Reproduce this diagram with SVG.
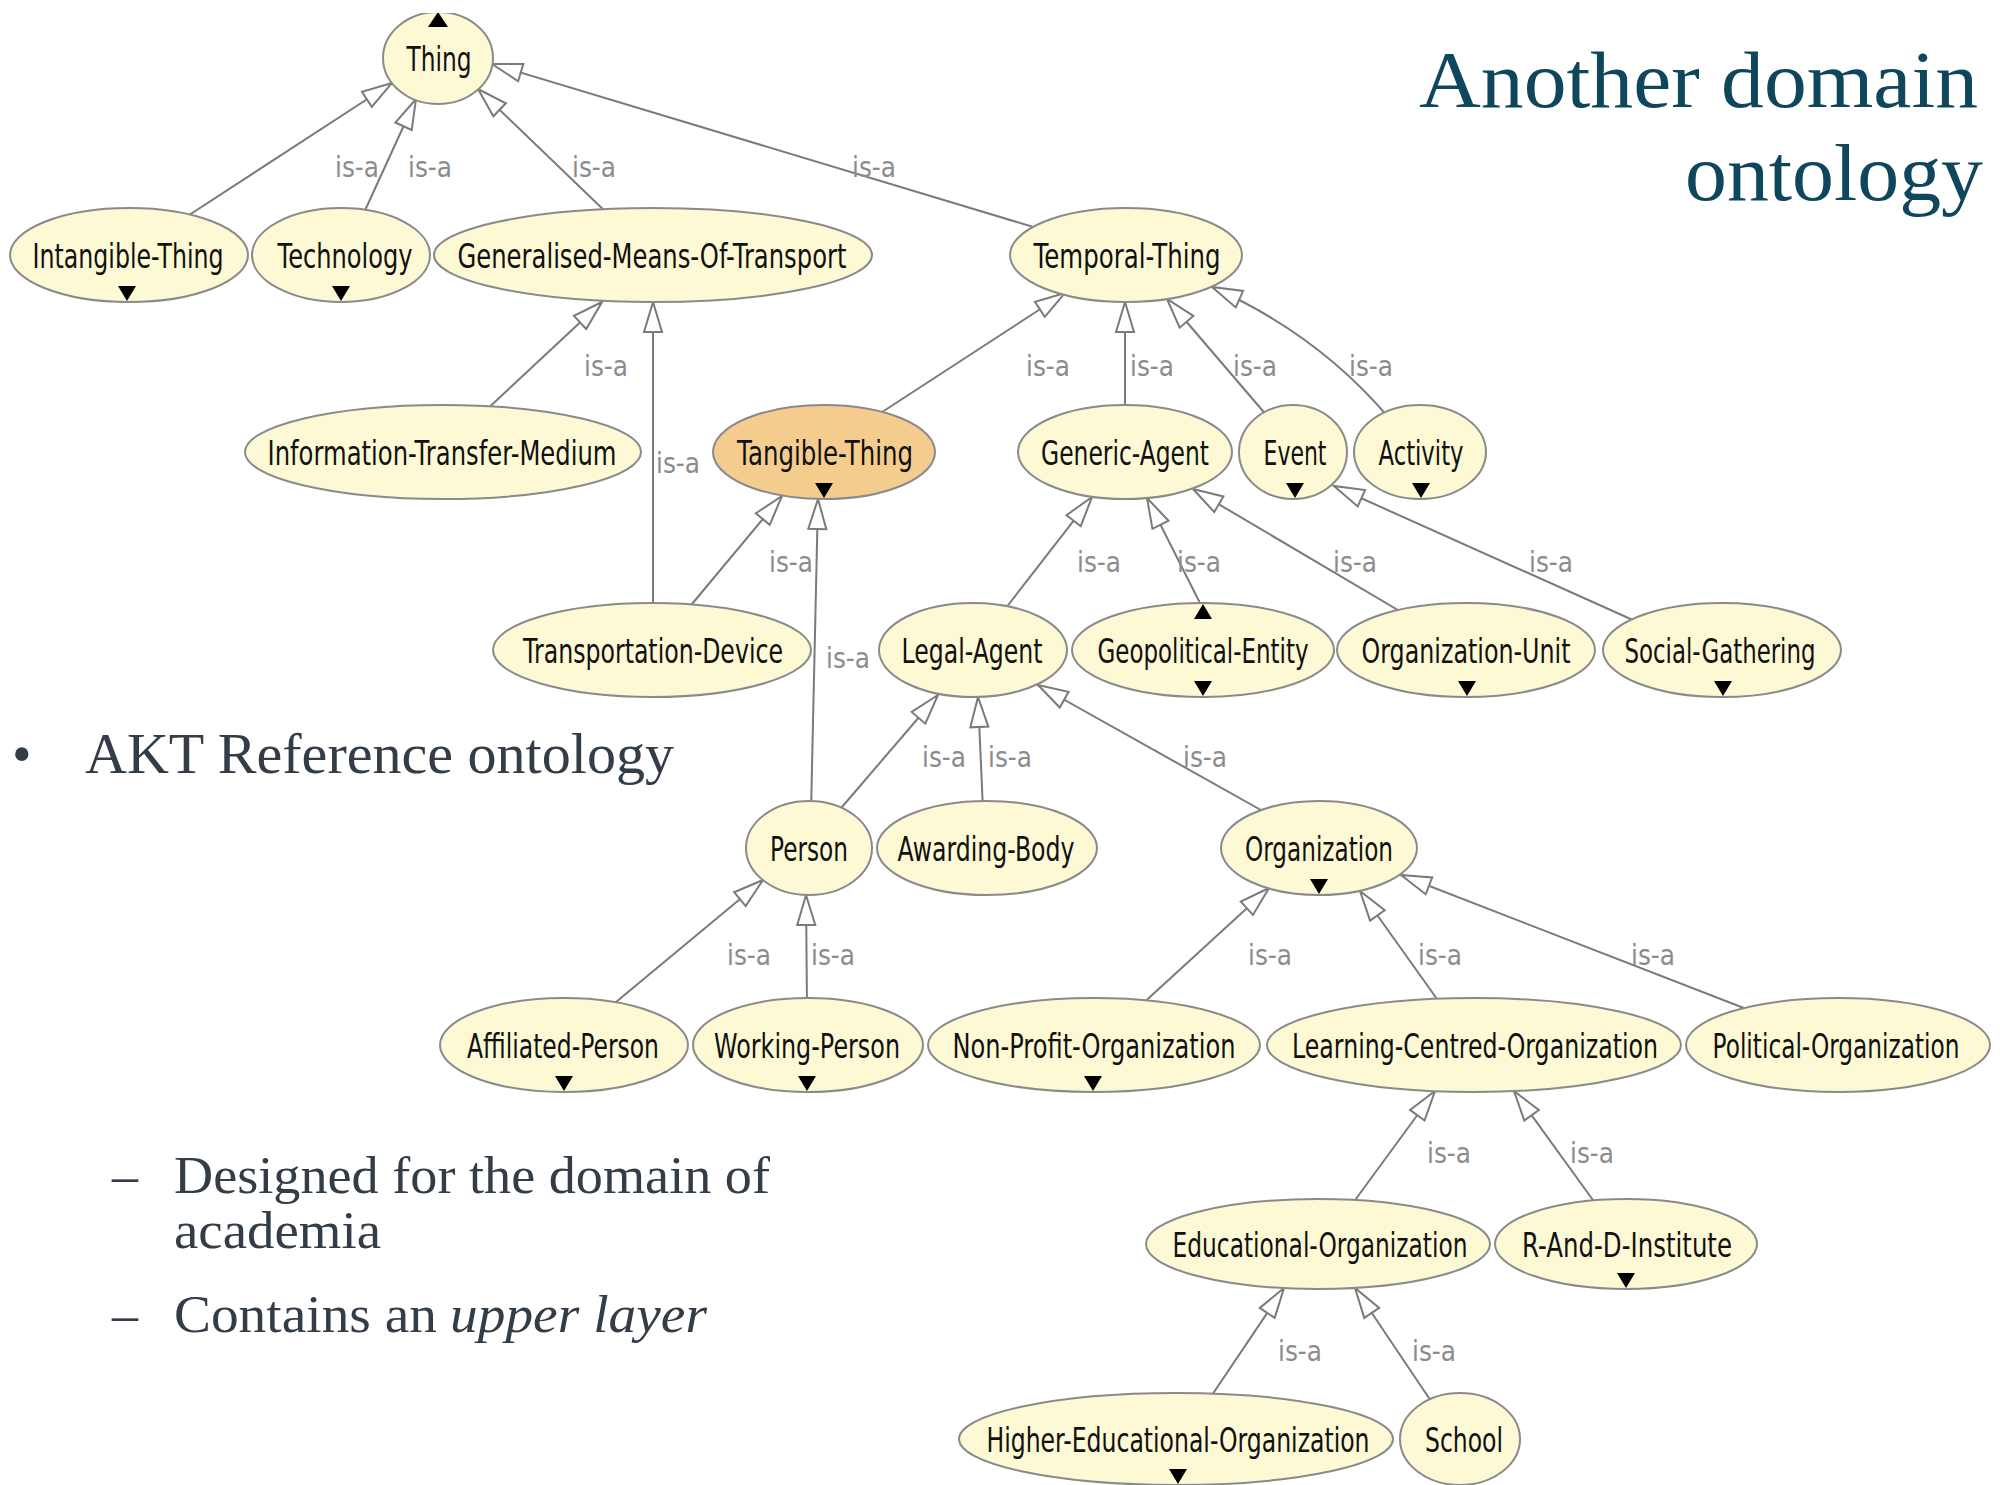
<svg xmlns="http://www.w3.org/2000/svg" width="2000" height="1485" viewBox="0 0 2000 1485">
<style>
.n{fill:#fcf9d4;stroke:#8a8a8a;stroke-width:2}
.o{fill:#f4cd8e;stroke:#8a8a8a;stroke-width:2}
.t{font-family:"DejaVu Sans","Liberation Sans",sans-serif;font-size:34px;fill:#111;text-anchor:middle}
.tri{fill:#000}
.e{stroke:#7a7a7a;stroke-width:2;fill:none;marker-end:url(#arr)}
.l{font-family:"DejaVu Sans","Liberation Sans",sans-serif;font-size:28px;fill:#8c8c8c;text-anchor:middle}
.s{font-family:"Liberation Serif","DejaVu Serif",serif;fill:#333d47}
.h{font-family:"Liberation Serif","DejaVu Serif",serif;fill:#0e475c;font-size:80px}
</style>
<defs>
<marker id="arr" viewBox="-32 -11 34 22" refX="0" refY="0" markerWidth="34" markerHeight="22" markerUnits="userSpaceOnUse" orient="auto">
<path d="M0,0 L-30,-9 L-30,9 Z" fill="#fff" stroke="#7a7a7a" stroke-width="2"/>
</marker>
<clipPath id="top"><rect x="0" y="13" width="2000" height="1472"/></clipPath>
</defs>
<rect width="2000" height="1485" fill="#fff"/>

<!-- title -->
<text class="h" x="1419" y="107" textLength="559" lengthAdjust="spacingAndGlyphs">Another domain</text>
<text class="h" x="1685" y="200" textLength="298" lengthAdjust="spacingAndGlyphs">ontology</text>

<!-- bullets -->
<text class="s" x="12" y="773" font-size="56">•</text>
<text class="s" x="85" y="773" font-size="56" textLength="589" lengthAdjust="spacingAndGlyphs">AKT Reference ontology</text>
<text class="s" x="112" y="1193" font-size="52">–</text>
<text class="s" x="174" y="1193" font-size="52" textLength="596" lengthAdjust="spacingAndGlyphs">Designed for the domain of</text>
<text class="s" x="174" y="1248" font-size="52" textLength="207" lengthAdjust="spacingAndGlyphs">academia</text>
<text class="s" x="112" y="1332" font-size="52">–</text>
<text class="s" x="174" y="1332" font-size="52" textLength="263" lengthAdjust="spacingAndGlyphs">Contains an</text>
<text class="s" x="450" y="1332" font-size="52" font-style="italic" textLength="257" lengthAdjust="spacingAndGlyphs">upper layer</text>

<g id="connectors">
<line class="e" x1="183" y1="219" x2="392" y2="83"/>
<line class="e" x1="362" y1="217" x2="416" y2="99"/>
<line class="e" x1="609" y1="215" x2="478" y2="89"/>
<line class="e" x1="1050" y1="232" x2="492" y2="64"/>
<line class="e" x1="483" y1="413" x2="602" y2="302"/>
<line class="e" x1="653" y1="612" x2="653" y2="302"/>
<line class="e" x1="876" y1="416" x2="1065" y2="293"/>
<line class="e" x1="1125" y1="414" x2="1125" y2="302"/>
<line class="e" x1="1268" y1="417" x2="1167" y2="299"/>
<path class="e" d="M1389,418 Q1318,334 1212,287"/>
<line class="e" x1="687" y1="610" x2="782" y2="496"/>
<line class="e" x1="811" y1="812" x2="818" y2="499"/>
<line class="e" x1="1002" y1="613" x2="1092" y2="497"/>
<line class="e" x1="1204" y1="611" x2="1147" y2="498"/>
<line class="e" x1="1408" y1="616" x2="1193" y2="489"/>
<line class="e" x1="1644" y1="625" x2="1334" y2="486"/>
<line class="e" x1="836" y1="814" x2="938" y2="695"/>
<line class="e" x1="983" y1="810" x2="978" y2="697"/>
<line class="e" x1="1268" y1="814" x2="1038" y2="685"/>
<line class="e" x1="610" y1="1007" x2="763" y2="880"/>
<line class="e" x1="807" y1="1008" x2="806" y2="895"/>
<line class="e" x1="1139" y1="1007" x2="1269" y2="888"/>
<line class="e" x1="1442" y1="1006" x2="1360" y2="891"/>
<line class="e" x1="1749" y1="1010" x2="1401" y2="875"/>
<line class="e" x1="1350" y1="1207" x2="1435" y2="1091"/>
<line class="e" x1="1598" y1="1207" x2="1514" y2="1091"/>
<line class="e" x1="1208" y1="1401" x2="1284" y2="1288"/>
<line class="e" x1="1435" y1="1407" x2="1355" y2="1288"/>
<g id="labels">
<text class="l" x="357" y="177" textLength="44" lengthAdjust="spacingAndGlyphs">is-a</text>
<text class="l" x="430" y="177" textLength="44" lengthAdjust="spacingAndGlyphs">is-a</text>
<text class="l" x="594" y="177" textLength="44" lengthAdjust="spacingAndGlyphs">is-a</text>
<text class="l" x="874" y="177" textLength="44" lengthAdjust="spacingAndGlyphs">is-a</text>
<text class="l" x="606" y="376" textLength="44" lengthAdjust="spacingAndGlyphs">is-a</text>
<text class="l" x="678" y="473" textLength="44" lengthAdjust="spacingAndGlyphs">is-a</text>
<text class="l" x="1048" y="376" textLength="44" lengthAdjust="spacingAndGlyphs">is-a</text>
<text class="l" x="1152" y="376" textLength="44" lengthAdjust="spacingAndGlyphs">is-a</text>
<text class="l" x="1255" y="376" textLength="44" lengthAdjust="spacingAndGlyphs">is-a</text>
<text class="l" x="1371" y="376" textLength="44" lengthAdjust="spacingAndGlyphs">is-a</text>
<text class="l" x="791" y="572" textLength="44" lengthAdjust="spacingAndGlyphs">is-a</text>
<text class="l" x="848" y="668" textLength="44" lengthAdjust="spacingAndGlyphs">is-a</text>
<text class="l" x="1099" y="572" textLength="44" lengthAdjust="spacingAndGlyphs">is-a</text>
<text class="l" x="1199" y="572" textLength="44" lengthAdjust="spacingAndGlyphs">is-a</text>
<text class="l" x="1355" y="572" textLength="44" lengthAdjust="spacingAndGlyphs">is-a</text>
<text class="l" x="1551" y="572" textLength="44" lengthAdjust="spacingAndGlyphs">is-a</text>
<text class="l" x="944" y="767" textLength="44" lengthAdjust="spacingAndGlyphs">is-a</text>
<text class="l" x="1010" y="767" textLength="44" lengthAdjust="spacingAndGlyphs">is-a</text>
<text class="l" x="1205" y="767" textLength="44" lengthAdjust="spacingAndGlyphs">is-a</text>
<text class="l" x="749" y="965" textLength="44" lengthAdjust="spacingAndGlyphs">is-a</text>
<text class="l" x="833" y="965" textLength="44" lengthAdjust="spacingAndGlyphs">is-a</text>
<text class="l" x="1270" y="965" textLength="44" lengthAdjust="spacingAndGlyphs">is-a</text>
<text class="l" x="1440" y="965" textLength="44" lengthAdjust="spacingAndGlyphs">is-a</text>
<text class="l" x="1653" y="965" textLength="44" lengthAdjust="spacingAndGlyphs">is-a</text>
<text class="l" x="1449" y="1163" textLength="44" lengthAdjust="spacingAndGlyphs">is-a</text>
<text class="l" x="1592" y="1163" textLength="44" lengthAdjust="spacingAndGlyphs">is-a</text>
<text class="l" x="1300" y="1361" textLength="44" lengthAdjust="spacingAndGlyphs">is-a</text>
<text class="l" x="1434" y="1361" textLength="44" lengthAdjust="spacingAndGlyphs">is-a</text>
</g>
</g>

<g id="n-thing" clip-path="url(#top)">
<ellipse class="n" cx="438" cy="58" rx="55" ry="46"/>
<text class="t" x="439" y="71" textLength="65" lengthAdjust="spacingAndGlyphs">Thing</text>
<path class="tri" d="M438,12 L428,27 L448,27 Z"/>
</g>
<g id="n-intangible-thing">
<ellipse class="n" cx="129" cy="255" rx="119" ry="47"/>
<text class="t" x="128" y="268" textLength="191" lengthAdjust="spacingAndGlyphs">Intangible-Thing</text>
<path class="tri" d="M118,286 L136,286 L127,301 Z"/>
</g>
<g id="n-technology">
<ellipse class="n" cx="341" cy="255" rx="89" ry="47"/>
<text class="t" x="345" y="268" textLength="135" lengthAdjust="spacingAndGlyphs">Technology</text>
<path class="tri" d="M332,286 L350,286 L341,301 Z"/>
</g>
<g id="n-generalised-means-of-transport">
<ellipse class="n" cx="653" cy="255" rx="219" ry="47"/>
<text class="t" x="652" y="268" textLength="389" lengthAdjust="spacingAndGlyphs">Generalised-Means-Of-Transport</text>
</g>
<g id="n-temporal-thing">
<ellipse class="n" cx="1126" cy="255" rx="116" ry="47"/>
<text class="t" x="1127" y="268" textLength="187" lengthAdjust="spacingAndGlyphs">Temporal-Thing</text>
</g>
<g id="n-information-transfer-medium">
<ellipse class="n" cx="443" cy="452" rx="198" ry="47"/>
<text class="t" x="442" y="465" textLength="349" lengthAdjust="spacingAndGlyphs">Information-Transfer-Medium</text>
</g>
<g id="n-tangible-thing">
<ellipse class="o" cx="824" cy="452" rx="111" ry="47"/>
<text class="t" x="825" y="465" textLength="176" lengthAdjust="spacingAndGlyphs">Tangible-Thing</text>
<path class="tri" d="M815,483 L833,483 L824,498 Z"/>
</g>
<g id="n-generic-agent">
<ellipse class="n" cx="1125" cy="452" rx="107" ry="47"/>
<text class="t" x="1125" y="465" textLength="168" lengthAdjust="spacingAndGlyphs">Generic-Agent</text>
</g>
<g id="n-event">
<ellipse class="n" cx="1293" cy="452" rx="54" ry="47"/>
<text class="t" x="1295" y="465" textLength="63" lengthAdjust="spacingAndGlyphs">Event</text>
<path class="tri" d="M1286,483 L1304,483 L1295,498 Z"/>
</g>
<g id="n-activity">
<ellipse class="n" cx="1420" cy="452" rx="66" ry="47"/>
<text class="t" x="1421" y="465" textLength="85" lengthAdjust="spacingAndGlyphs">Activity</text>
<path class="tri" d="M1412,483 L1430,483 L1421,498 Z"/>
</g>
<g id="n-transportation-device">
<ellipse class="n" cx="652" cy="650" rx="159" ry="47"/>
<text class="t" x="653" y="663" textLength="260" lengthAdjust="spacingAndGlyphs">Transportation-Device</text>
</g>
<g id="n-legal-agent">
<ellipse class="n" cx="973" cy="650" rx="94" ry="47"/>
<text class="t" x="972" y="663" textLength="141" lengthAdjust="spacingAndGlyphs">Legal-Agent</text>
</g>
<g id="n-geopolitical-entity">
<ellipse class="n" cx="1203" cy="650" rx="131" ry="47"/>
<text class="t" x="1203" y="663" textLength="211" lengthAdjust="spacingAndGlyphs">Geopolitical-Entity</text>
<path class="tri" d="M1203,604 L1194,619 L1212,619 Z"/>
<path class="tri" d="M1194,681 L1212,681 L1203,696 Z"/>
</g>
<g id="n-organization-unit">
<ellipse class="n" cx="1466" cy="650" rx="129" ry="47"/>
<text class="t" x="1466" y="663" textLength="209" lengthAdjust="spacingAndGlyphs">Organization-Unit</text>
<path class="tri" d="M1458,681 L1476,681 L1467,696 Z"/>
</g>
<g id="n-social-gathering">
<ellipse class="n" cx="1722" cy="650" rx="119" ry="47"/>
<text class="t" x="1720" y="663" textLength="191" lengthAdjust="spacingAndGlyphs">Social-Gathering</text>
<path class="tri" d="M1714,681 L1732,681 L1723,696 Z"/>
</g>
<g id="n-person">
<ellipse class="n" cx="809" cy="848" rx="63" ry="47"/>
<text class="t" x="809" y="861" textLength="78" lengthAdjust="spacingAndGlyphs">Person</text>
</g>
<g id="n-awarding-body">
<ellipse class="n" cx="987" cy="848" rx="110" ry="47"/>
<text class="t" x="986" y="861" textLength="177" lengthAdjust="spacingAndGlyphs">Awarding-Body</text>
</g>
<g id="n-organization">
<ellipse class="n" cx="1319" cy="848" rx="98" ry="47"/>
<text class="t" x="1319" y="861" textLength="148" lengthAdjust="spacingAndGlyphs">Organization</text>
<path class="tri" d="M1310,879 L1328,879 L1319,894 Z"/>
</g>
<g id="n-affiliated-person">
<ellipse class="n" cx="564" cy="1045" rx="124" ry="47"/>
<text class="t" x="563" y="1058" textLength="192" lengthAdjust="spacingAndGlyphs">Affiliated-Person</text>
<path class="tri" d="M555,1076 L573,1076 L564,1091 Z"/>
</g>
<g id="n-working-person">
<ellipse class="n" cx="808" cy="1045" rx="115" ry="47"/>
<text class="t" x="807" y="1058" textLength="186" lengthAdjust="spacingAndGlyphs">Working-Person</text>
<path class="tri" d="M798,1076 L816,1076 L807,1091 Z"/>
</g>
<g id="n-non-profit-organization">
<ellipse class="n" cx="1094" cy="1045" rx="166" ry="47"/>
<text class="t" x="1094" y="1058" textLength="283" lengthAdjust="spacingAndGlyphs">Non-Profit-Organization</text>
<path class="tri" d="M1084,1076 L1102,1076 L1093,1091 Z"/>
</g>
<g id="n-learning-centred-organization">
<ellipse class="n" cx="1474" cy="1045" rx="207" ry="47"/>
<text class="t" x="1475" y="1058" textLength="366" lengthAdjust="spacingAndGlyphs">Learning-Centred-Organization</text>
</g>
<g id="n-political-organization">
<ellipse class="n" cx="1838" cy="1045" rx="152" ry="47"/>
<text class="t" x="1836" y="1058" textLength="247" lengthAdjust="spacingAndGlyphs">Political-Organization</text>
</g>
<g id="n-educational-organization">
<ellipse class="n" cx="1318" cy="1244" rx="172" ry="45"/>
<text class="t" x="1320" y="1257" textLength="295" lengthAdjust="spacingAndGlyphs">Educational-Organization</text>
</g>
<g id="n-r-and-d-institute">
<ellipse class="n" cx="1626" cy="1244" rx="131" ry="45"/>
<text class="t" x="1627" y="1257" textLength="210" lengthAdjust="spacingAndGlyphs">R-And-D-Institute</text>
<path class="tri" d="M1617,1273 L1635,1273 L1626,1288 Z"/>
</g>
<g id="n-higher-educational-organization">
<ellipse class="n" cx="1176" cy="1439" rx="217" ry="46"/>
<text class="t" x="1178" y="1452" textLength="383" lengthAdjust="spacingAndGlyphs">Higher-Educational-Organization</text>
<path class="tri" d="M1169,1469 L1187,1469 L1178,1484 Z"/>
</g>
<g id="n-school">
<ellipse class="n" cx="1460" cy="1439" rx="60" ry="46"/>
<text class="t" x="1464" y="1452" textLength="78" lengthAdjust="spacingAndGlyphs">School</text>
</g>
</svg>
